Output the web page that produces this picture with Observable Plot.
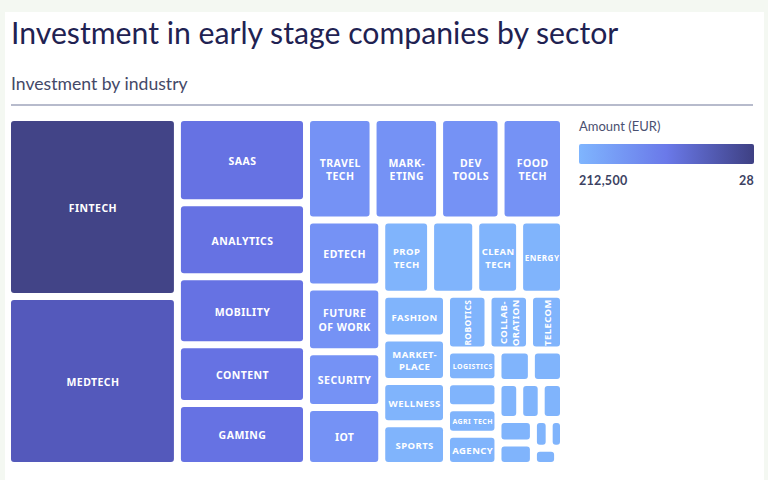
<!DOCTYPE html>
<html>
<head>
<meta charset="utf-8">
<script src="https://cdn.jsdelivr.net/npm/d3@7"></script>
<script src="https://cdn.jsdelivr.net/npm/@observablehq/plot@0.6"></script>
<style>
  html, body { margin: 0; padding: 0; width: 768px; height: 480px; overflow: hidden; background: #f4f8f2; font-family: Lato, "Noto Sans", sans-serif; }
  #card { position: absolute; left: 5px; top: 12px; width: 759px; height: 470px; background: #fff; }
  #title { position: absolute; left: 11px; top: 15px; font-size: 30.2px; line-height: 34px; color: #1f2252; white-space: nowrap; }
  #subtitle { position: absolute; left: 11px; top: 74px; font-size: 17.6px; line-height: 20px; color: #444968; white-space: nowrap; }
  #rule { position: absolute; left: 11px; top: 104px; width: 742px; height: 2px; background: #b7bbcc; }
  #chart { position: absolute; left: 0; top: 112px; }
  #chart svg text { letter-spacing: 0.45px; }
  #legend { position: absolute; left: 579px; top: 118px; width: 175px; }
  #legend .lt { font-size: 13px; color: #4a5070; line-height: 16px; }
  #legend .bar { margin-top: 10px; height: 20px; border-radius: 2px; background: linear-gradient(to right, #7fb5fe, #6a79e9 50%, #3e4083); }
  #legend .ticks { display: flex; justify-content: space-between; margin-top: 9px; font-size: 12.5px; font-weight: 700; color: #3c4262; letter-spacing: 0.3px; }
</style>
</head>
<body>
<div id="card"></div>
<div id="title">Investment in early stage companies by sector</div>
<div id="subtitle">Investment by industry</div>
<div id="rule"></div>
<div id="chart"></div>
<div id="legend">
  <div class="lt">Amount (EUR)</div>
  <div class="bar"></div>
  <div class="ticks"><span>212,500</span><span>28</span></div>
</div>
<script>
// Sector labels (line breaks as shown in the tiles; "" = unlabeled tile)
const labels = [
  "FINTECH", "MEDTECH",
  "SAAS", "ANALYTICS", "MOBILITY", "CONTENT", "GAMING",
  "TRAVEL\nTECH", "MARK-\nETING", "DEV\nTOOLS", "FOOD\nTECH",
  "EDTECH", "FUTURE\nOF WORK", "SECURITY", "IOT",
  "PROP\nTECH", "", "CLEAN\nTECH", "ENERGY",
  "FASHION", "MARKET-\nPLACE", "WELLNESS", "SPORTS",
  "ROBOTICS", "COLLAB-\nORATION", "TELECOM",
  "LOGISTICS", "", "AGRI TECH", "AGENCY",
  "", "", "", "", "", "", "", "", "", "", ""
];
// Investment amounts (relative, estimated from tile areas)
const amounts = [
  29720, 28060,
  10750, 9340, 8580, 7420, 7810,
  6670, 6670, 6160, 6260,
  4910, 4760, 4110, 4260,
  3540, 3270, 3180, 3180,
  2770, 2750, 2680, 2640,
  2260, 2260, 1850,
  1600, 1310, 1330, 1570,
  1060, 1020, 790, 780, 810, 810, 780, 440, 400, 410, 100
];
// Colour steps
const colorThresholds = [4000, 7000, 20000, 29000];
const colorRange = ["#80b4fc", "#7592f5", "#6672e3", "#5459bb", "#424487"];

const W = 549, H = 341;
const data = labels.map((label, i) => ({label, amount: amounts[i]}));
const root = d3.hierarchy({children: data}).sum(d => d.amount || 0);
d3.treemap().tile(d3.treemapSquarify.ratio(1.53)).size([W, H]).paddingInner(7)(root);
const cells = root.leaves().map(n => ({...n.data, x0: n.x0, x1: n.x1, y0: n.y0, y1: n.y1}));

function fit(len, lines, w, h, cap) {
  return Math.min(cap, w / (len * 0.62 + 0.8), h / (lines * 1.5));
}
cells.forEach(c => {
  const w = c.x1 - c.x0, h = c.y1 - c.y0;
  const ls = c.label.split("\n");
  const len = d3.max(ls, s => s.length) || 1;
  const cap = w * h > 3000 ? 10.5 : 9.5;
  const fh = fit(len, ls.length, w, h, cap), fv = fit(len, ls.length, h, w, cap);
  c.rot = (h > w && fv > fh * 1.3) ? -90 : 0;
  c.size = c.rot ? fv : fh;
});

const chart = Plot.plot({
  width: 570,
  height: 356,
  margin: 0,
  x: {domain: [0, W], range: [11, 11 + W], axis: null},
  y: {domain: [0, H], range: [9, 9 + H], axis: null},
  color: {type: "threshold", domain: colorThresholds, range: colorRange},
  marks: [
    Plot.rect(cells, {x1: "x0", x2: "x1", y1: "y0", y2: "y1", fill: "amount", rx: 3}),
    Plot.text(cells, {
      x: d => (d.x0 + d.x1) / 2,
      y: d => (d.y0 + d.y1) / 2,
      text: "label",
      fill: "white",
      fontWeight: "bold",
      fontSize: d => d.size,
      rotate: d => d.rot,
      lineHeight: 1.3
    })
  ]
});
document.getElementById("chart").appendChild(chart);
</script>
</body>
</html>
